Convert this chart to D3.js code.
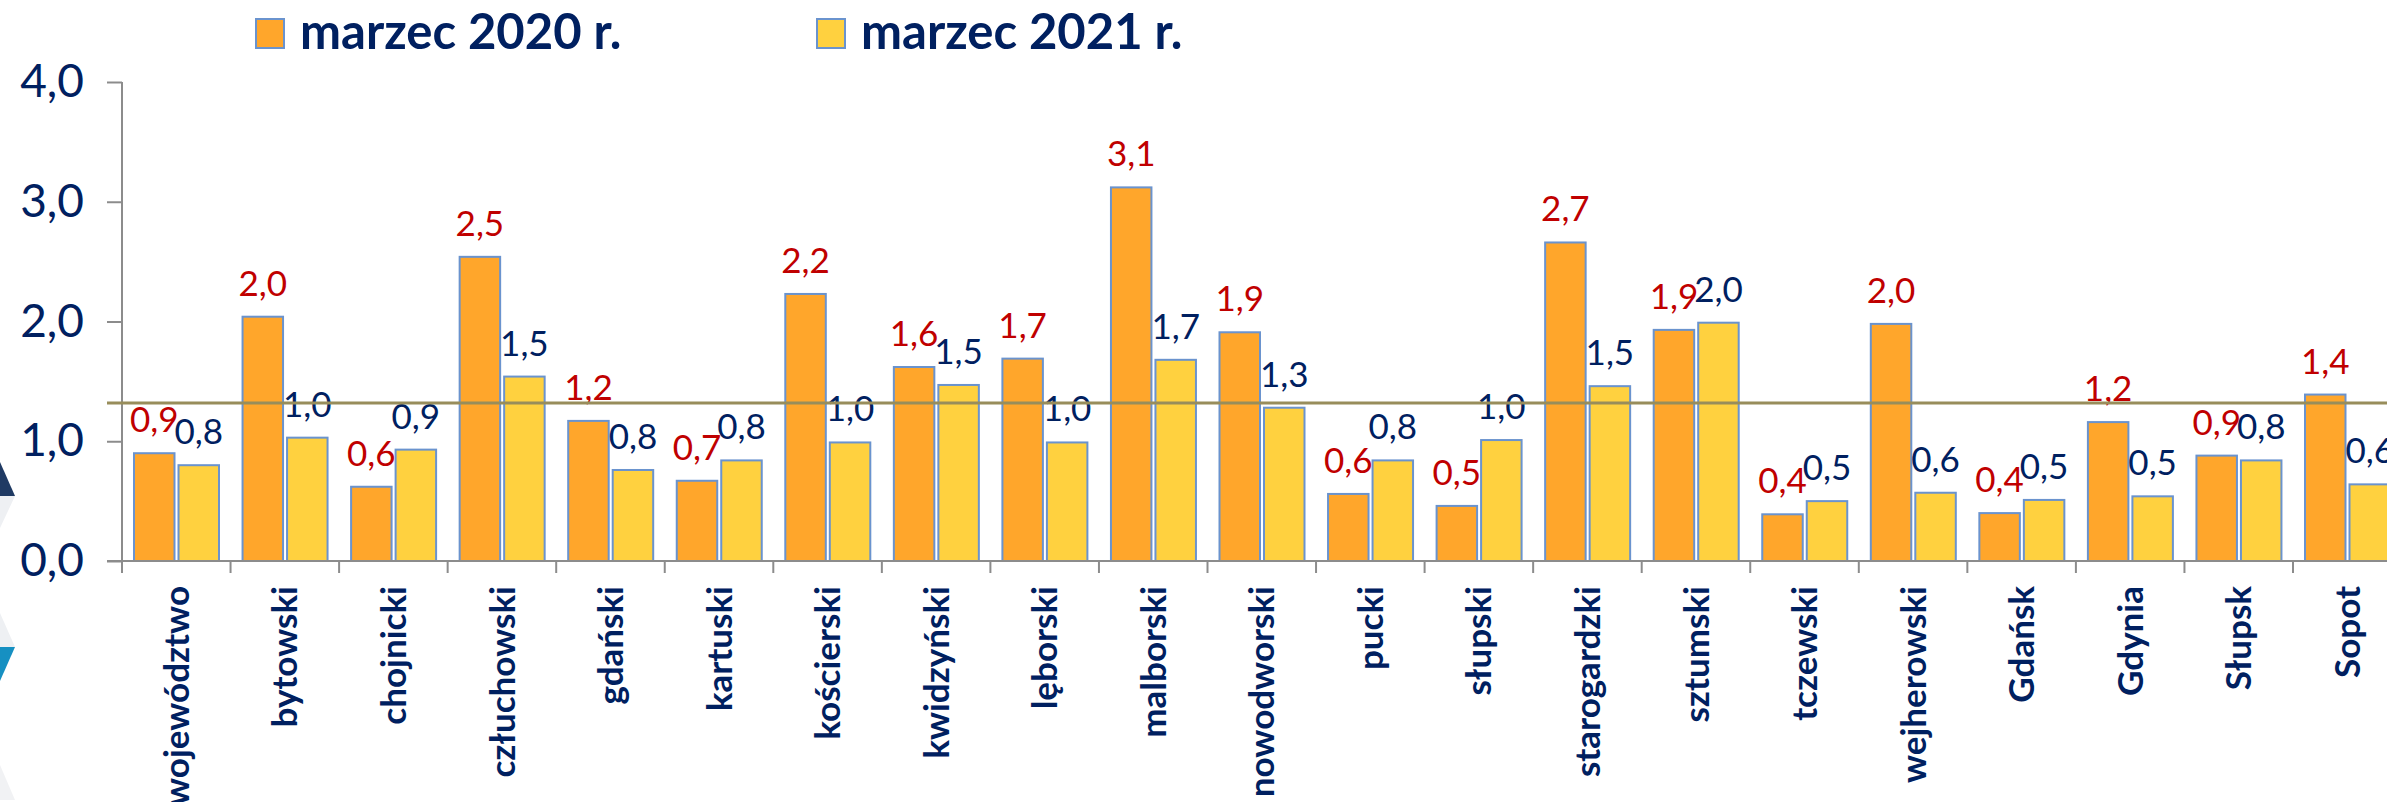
<!DOCTYPE html>
<html>
<head>
<meta charset="utf-8">
<script src="https://cdn.jsdelivr.net/npm/d3@7"></script>
<style>
    body { margin: 0; background: #ffffff; }
    svg { display: block; }
</style>
</head>
<body>
<div id="wrapper"></div>
<script>
const categories = ["województwo", "bytowski", "chojnicki", "człuchowski", "gdański", "kartuski",
    "kościerski", "kwidzyński", "lęborski", "malborski", "nowodworski", "pucki", "słupski",
    "starogardzki", "sztumski", "tczewski", "wejherowski", "Gdańsk", "Gdynia", "Słupsk", "Sopot"]
const values2020 = [0.90, 2.04, 0.62, 2.54, 1.17, 0.67, 2.23, 1.62, 1.69, 3.12, 1.91, 0.56, 0.46,
    2.66, 1.93, 0.39, 1.98, 0.40, 1.16, 0.88, 1.39]
const values2021 = [0.80, 1.03, 0.93, 1.54, 0.76, 0.84, 0.99, 1.47, 0.99, 1.68, 1.28, 0.84, 1.01,
    1.46, 1.99, 0.50, 0.57, 0.51, 0.54, 0.84, 0.64]
const seriesNames = ["marzec 2020 r.", "marzec 2021 r."]
const yTicks = [0, 1, 2, 3, 4]
const referenceValue = 1.32

function drawBars() {
    const seriesKeys = ["y2020", "y2021"]
    const dataset = categories.map((c, i) => ({ name: c, y2020: values2020[i], y2021: values2021[i] }))

    const colors = { y2020: "#FFA62B", y2021: "#FFD13F" }
    const labelColors = { y2020: "#C00000", y2021: "#002060" }
    const navy = "#002060"
    const axisGray = "#8C8C8C"

    let dimensions = {
        width: 2387,
        height: 802,
        margin: { top: 82, left: 122 },
        zeroY: 561,
        step: 108.55,
    }

    const wrapper = d3.select("#wrapper")
        .append("svg")
        .attr("width", dimensions.width)
        .attr("height", dimensions.height)

    // little logo pieces on the left edge of the slide
    const deco = wrapper.append("g")
    deco.append("polygon").attr("points", "0,496 15,496 0,528").attr("fill", "#EEF0F3")
    deco.append("polygon").attr("points", "0,462 15,496 0,496").attr("fill", "#1F3A63")
    deco.append("polygon").attr("points", "0,613 15,647 0,647").attr("fill", "#EEF0F3")
    deco.append("polygon").attr("points", "0,647 15,647 0,681").attr("fill", "#1690C2")
    deco.append("polygon").attr("points", "0,765 15,800 0,800").attr("fill", "#F1F2F4")

    // scales
    const x0 = d3.scaleBand()
        .domain(categories)
        .range([dimensions.margin.left, dimensions.margin.left + dimensions.step * categories.length])
        .padding(0)

    const x1 = d3.scaleBand()
        .domain(seriesKeys)
        .range([12, 97])
        .paddingInner(0.09)

    const yScale = d3.scaleLinear()
        .domain([0, 4])
        .range([dimensions.zeroY, dimensions.margin.top])

    const plFormat = d3.formatLocale({ decimal: ",", thousands: " ", grouping: [3], currency: ["", " zł"] }).format(".1f")

    // y axis
    const yAxisGenerator = d3.axisLeft(yScale)
        .tickValues(yTicks)
        .tickSize(15)
        .tickFormat(plFormat)

    const yAxis = wrapper.append("g")
        .attr("transform", `translate(${dimensions.margin.left},0)`)
        .call(yAxisGenerator)
    yAxis.select(".domain").remove()
    yAxis.selectAll(".tick line").attr("stroke", axisGray).attr("stroke-width", 2)
    yAxis.selectAll(".tick text")
        .attr("x", -38)
        .attr("fill", navy)
        .style("font-family", "Lato, sans-serif")
        .style("font-size", "46px")

    // vertical axis line (runs a bit past the zero line)
    wrapper.append("line")
        .attr("x1", dimensions.margin.left).attr("x2", dimensions.margin.left)
        .attr("y1", yScale(4)).attr("y2", dimensions.zeroY + 12)
        .attr("stroke", axisGray).attr("stroke-width", 2)

    // bars
    const groups = wrapper.append("g")
        .selectAll("g")
        .data(dataset)
        .join("g")
        .attr("transform", d => `translate(${x0(d.name)},0)`)

    groups.selectAll("rect")
        .data(d => seriesKeys.map(k => ({ key: k, value: d[k] })))
        .join("rect")
        .attr("x", d => x1(d.key))
        .attr("y", d => yScale(d.value))
        .attr("width", x1.bandwidth())
        .attr("height", d => yScale(0) - yScale(d.value))
        .attr("fill", d => colors[d.key])
        .attr("stroke", "#6A93CE")
        .attr("stroke-width", 2)

    // x axis line + ticks between categories
    wrapper.append("line")
        .attr("x1", dimensions.margin.left - 15).attr("x2", dimensions.width)
        .attr("y1", dimensions.zeroY).attr("y2", dimensions.zeroY)
        .attr("stroke", axisGray).attr("stroke-width", 2)

    wrapper.append("g")
        .selectAll("line")
        .data(categories.slice(1))
        .join("line")
        .attr("x1", d => x0(d)).attr("x2", d => x0(d))
        .attr("y1", dimensions.zeroY).attr("y2", dimensions.zeroY + 12)
        .attr("stroke", axisGray).attr("stroke-width", 2)

    // reference line
    wrapper.append("line")
        .attr("x1", dimensions.margin.left - 15).attr("x2", dimensions.width)
        .attr("y1", yScale(referenceValue)).attr("y2", yScale(referenceValue))
        .attr("stroke", "#988D5B").attr("stroke-width", 3)

    // value labels
    groups.selectAll("text")
        .data(d => seriesKeys.map(k => ({ key: k, value: d[k] })))
        .join("text")
        .attr("x", d => x1(d.key) + x1.bandwidth() / 2)
        .attr("y", d => yScale(d.value) - 21)
        .attr("text-anchor", "middle")
        .attr("fill", d => labelColors[d.key])
        .style("font-family", "Lato, sans-serif")
        .style("font-size", "35px")
        .text(d => plFormat(d.value))

    // category labels, rotated
    wrapper.append("g")
        .selectAll("text")
        .data(categories)
        .join("text")
        .attr("transform", d => `translate(${x0(d) + x0.bandwidth() / 2},586) rotate(-90)`)
        .attr("text-anchor", "end")
        .attr("dy", "0.36em")
        .attr("fill", navy)
        .style("font-family", "Lato, sans-serif")
        .style("font-weight", "bold")
        .style("font-size", "35px")
        .text(d => d)

    // legend
    const legendX = [256, 817]
    const legend = wrapper.append("g")
        .selectAll("g")
        .data(seriesKeys)
        .join("g")
        .attr("transform", (d, i) => `translate(${legendX[i]},19)`)

    legend.append("rect")
        .attr("width", 28)
        .attr("height", 29)
        .attr("fill", d => colors[d])
        .attr("stroke", "#6A93CE")
        .attr("stroke-width", 2)

    legend.append("text")
        .attr("x", 44)
        .attr("y", 30)
        .attr("fill", navy)
        .style("font-family", "Lato, sans-serif")
        .style("font-weight", "bold")
        .style("font-size", "49px")
        .text((d, i) => seriesNames[i])
}

drawBars()
</script>
</body>
</html>
